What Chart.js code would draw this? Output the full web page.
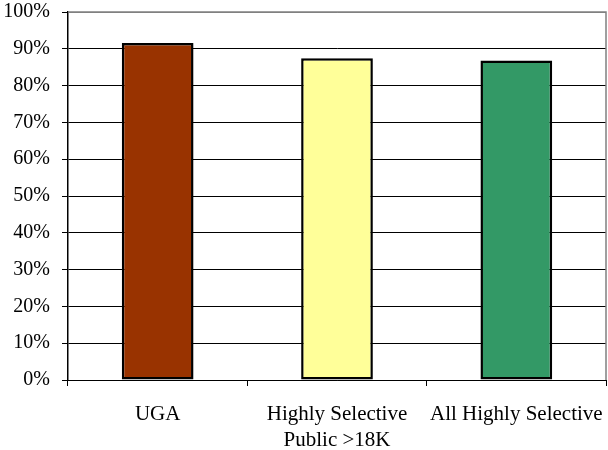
<!DOCTYPE html>
<html>
<head>
<meta charset="utf-8">
<script src="https://cdn.jsdelivr.net/npm/chart.js@4"></script>
<style>
html,body{margin:0;padding:0;background:#fff;}
#wrap{width:608px;height:450px;}
</style>
</head>
<body>
<div id="wrap"><canvas id="c" width="608" height="450"></canvas></div>
<script>
const categories = [["UGA"], ["Highly Selective", "Public >18K"], ["All Highly Selective"]];
const values = [91.6, 87.4, 86.8];
const barColors = ["#993300", "#FFFF99", "#339966"];
const yTicks = [0, 10, 20, 30, 40, 50, 60, 70, 80, 90, 100];

const borderPlugin = {
  id: 'plotBorder',
  beforeDatasetsDraw(chart) {
    const a = chart.chartArea, ctx = chart.ctx;
    ctx.save();
    ctx.strokeStyle = '#808080';
    ctx.lineWidth = 1.5;
    ctx.beginPath();
    ctx.moveTo(a.left, a.top);
    ctx.lineTo(a.right, a.top);
    ctx.lineTo(a.right, a.bottom);
    ctx.stroke();
    ctx.restore();
  }
};

new Chart(document.getElementById('c'), {
  type: 'bar',
  data: {
    labels: categories,
    datasets: [{
      data: values,
      backgroundColor: barColors,
      borderColor: '#000000',
      borderWidth: 2.5,
      borderSkipped: false,
      categoryPercentage: 1.0,
      barPercentage: 0.4
    }]
  },
  options: {
    responsive: false,
    animation: false,
    devicePixelRatio: 1,
    layout: { padding: { top: 12, right: 2, left: 0, bottom: 0 } },
    plugins: { legend: { display: false }, tooltip: { enabled: false } },
    scales: {
      x: {
        grid: { offset: true, drawOnChartArea: false, color: '#000000', tickLength: 6 },
        border: { color: '#000000', width: 1 },
        ticks: {
          color: '#000000',
          font: { family: 'Liberation Serif', size: 21, lineHeight: 1.25 },
          padding: 15,
          maxRotation: 0,
          autoSkip: false
        },
        afterFit(s) { s.height = 70; s.paddingLeft = 0; s.paddingRight = 0; }
      },
      y: {
        min: 0, max: 100,
        afterBuildTicks(s) { s.ticks = yTicks.map(v => ({ value: v })); },
        grid: {
          color: ctx => (ctx.tick && ctx.tick.value === 100) ? '#808080' : '#000000',
          tickColor: '#000000',
          tickLength: 6
        },
        border: { color: '#000000', width: 1.5 },
        ticks: {
          color: '#000000',
          font: { family: 'Liberation Serif', size: 20 },
          padding: 12,
          callback: v => v + '%'
        },
        afterFit(s) { s.width = 68; s.paddingTop = 0; s.paddingBottom = 0; }
      }
    }
  },
  plugins: [borderPlugin]
});
</script>
</body>
</html>
